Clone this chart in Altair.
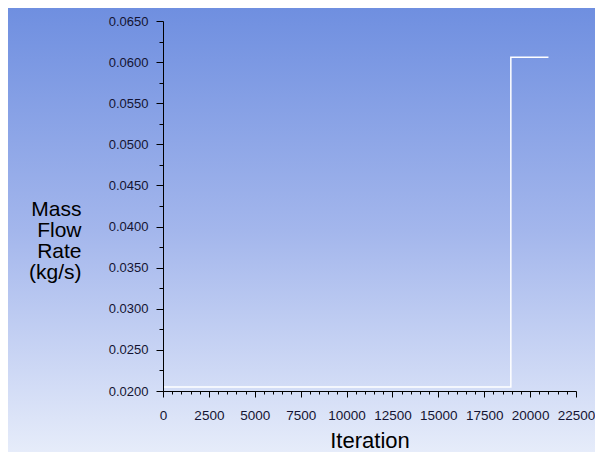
import altair as alt
import pandas as pd

# Data
iterations = [0, 18950, 21000]
mass_flow = [0.0205, 0.0606, 0.0606]

x_ticks = list(range(0, 22501, 500))
y_ticks = [round(0.02 + i * 0.0025, 4) for i in range(19)]

df = pd.DataFrame({"Iteration": iterations, "Mass Flow Rate": mass_flow})

W, H = 413, 370
PAD = {"left": 155, "top": 13, "right": 19, "bottom": 61}

bg = alt.Chart(pd.DataFrame({"a": [0]})).mark_rect(
    color=alt.Gradient(
        gradient="linear", x1=0, y1=0, x2=0, y2=1,
        stops=[
            alt.GradientStop(color="#6f8fe0", offset=0),
            alt.GradientStop(color="#a3b6ec", offset=0.5),
            alt.GradientStop(color="#e6ecfa", offset=1),
        ],
    ),
    clip=False,
).encode(
    x=alt.value(-PAD["left"]), x2=alt.value(W + PAD["right"]),
    y=alt.value(-PAD["top"]), y2=alt.value(H + PAD["bottom"]),
)

line = alt.Chart(df).mark_line(
    color="white", strokeWidth=1.5, interpolate="step-after"
).encode(
    x=alt.X(
        "Iteration:Q",
        scale=alt.Scale(domain=[0, 22500], nice=False, zero=False),
        axis=alt.Axis(
            values=x_ticks,
            labelExpr="datum.value % 2500 === 0 ? format(datum.value, 'd') : ''",
            tickSize={"condition": {"test": "datum.value % 2500 === 0", "value": 6}, "value": 3},
            labelFlush=False, labelOverlap=False, labelBound=False,
            labelFont="Liberation Sans", labelFontSize=13.5, labelColor="#141432",
            labelPadding=11,
            domainColor="black", tickColor="black", grid=False, zindex=2,
            title="Iteration", titleFont="Liberation Sans", titleFontSize=22,
            titleFontWeight="normal", titleColor="black",
            titleY=56, titleBaseline="alphabetic",
        ),
    ),
    y=alt.Y(
        "Mass Flow Rate:Q",
        scale=alt.Scale(domain=[0.02, 0.065], nice=False, zero=False),
        axis=alt.Axis(
            values=y_ticks,
            labelExpr="round(datum.value * 10000) % 50 === 0 ? format(datum.value, '.4f') : ''",
            tickSize={"condition": {"test": "round(datum.value * 10000) % 50 === 0", "value": 7}, "value": 4},
            labelOverlap=False, labelBound=False, labelFlush=False,
            labelFont="Liberation Sans", labelFontSize=13, labelColor="#141432",
            labelPadding=8,
            domainColor="black", tickColor="black", grid=False, zindex=2,
            title=["Mass", "Flow", "Rate", "(kg/s)"],
            titleFont="Liberation Sans", titleFontSize=21, titleFontWeight="normal",
            titleColor="black", titleAngle=0, titleAlign="right",
            titleBaseline="top", titleX=-82, titleY=177, titleLineHeight=21,
        ),
    ),
)

chart = alt.layer(bg, line).properties(
    width=W, height=H,
    autosize=alt.AutoSizeParams(type="none"),
    padding=PAD,
    background="#a3b6ec",
).configure_view(stroke=None)

chart.save("out.html", embed_options={"renderer": "svg", "actions": False})
